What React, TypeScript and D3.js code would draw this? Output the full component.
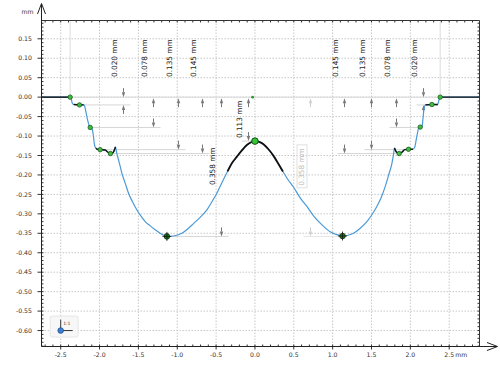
import * as d3 from "d3"

// tick values and labels
const xTicks = [-2.5, -2, -1.5, -1, -0.5, 0, 0.5, 1, 1.5, 2, 2.5]
const xTickLabels = ["-2.5", "-2.0", "-1.5", "-1.0", "-0.5", "0.0", "0.5", "1.0", "1.5", "2.0", "2.5"]
const yTicks = [0.15, 0.1, 0.05, 0, -0.05, -0.1, -0.15, -0.2, -0.25, -0.3, -0.35, -0.4, -0.45, -0.5, -0.55, -0.6]
const yTickLabels = ["0.15", "0.10", "0.05", "0.00", "-0.05", "-0.10", "-0.15", "-0.20", "-0.25", "-0.30", "-0.35", "-0.40", "-0.45", "-0.50", "-0.55", "-0.60"]

// measured profile (mm, mm)
const profile: [number, number][] = [
  [-2.747, 0], [-2.378, 0], [-2.365, -0.004], [-2.352, -0.015], [-2.333, -0.019],
  [-2.258, -0.02], [-2.204, -0.02], [-2.194, -0.022], [-2.172, -0.041], [-2.155, -0.058],
  [-2.133, -0.073], [-2.12, -0.078], [-2.098, -0.08], [-2.078, -0.101], [-2.065, -0.123],
  [-2.047, -0.131], [-2.03, -0.134], [-1.992, -0.135], [-1.927, -0.136], [-1.895, -0.141],
  [-1.859, -0.145], [-1.824, -0.142], [-1.795, -0.128], [-1.782, -0.141], [-1.756, -0.161],
  [-1.734, -0.178], [-1.712, -0.196], [-1.67, -0.221], [-1.627, -0.247], [-1.576, -0.269],
  [-1.519, -0.29], [-1.455, -0.309], [-1.412, -0.32], [-1.348, -0.331], [-1.284, -0.341],
  [-1.21, -0.351], [-1.133, -0.358], [-1.048, -0.357], [-0.94, -0.35], [-0.855, -0.337],
  [-0.791, -0.325], [-0.705, -0.309], [-0.618, -0.29], [-0.554, -0.269], [-0.49, -0.247],
  [-0.421, -0.218], [-0.353, -0.191], [-0.297, -0.17], [-0.232, -0.153], [-0.168, -0.137],
  [-0.104, -0.123], [-0.048, -0.116], [0, -0.113], [0.055, -0.115], [0.11, -0.121],
  [0.174, -0.134], [0.239, -0.151], [0.303, -0.172], [0.36, -0.191], [0.428, -0.213],
  [0.496, -0.231], [0.582, -0.259], [0.669, -0.281], [0.754, -0.305], [0.84, -0.324],
  [0.968, -0.346], [1.046, -0.353], [1.127, -0.357], [1.2, -0.355], [1.268, -0.35],
  [1.355, -0.337], [1.441, -0.32], [1.509, -0.301], [1.569, -0.281], [1.625, -0.258],
  [1.676, -0.23], [1.721, -0.2], [1.763, -0.17], [1.783, -0.148], [1.796, -0.131],
  [1.811, -0.138], [1.831, -0.143], [1.856, -0.145], [1.895, -0.141], [1.927, -0.135],
  [1.976, -0.134], [2.033, -0.134], [2.056, -0.129], [2.075, -0.11], [2.092, -0.092],
  [2.105, -0.08], [2.127, -0.077], [2.152, -0.075], [2.161, -0.058], [2.178, -0.028],
  [2.195, -0.02], [2.277, -0.019], [2.352, -0.019], [2.365, -0.01], [2.384, 0], [2.89, 0],
]

// fitted (black) stretches of the profile
const fitFrom = [-2.747, -2.333, -2.133, -2.047, -0.353, 1.796, 2.127, 2.195, 2.384]
const fitTo = [-2.378, -2.204, -2.098, -1.795, 0.36, 2.033, 2.152, 2.352, 2.89]

// small green points
const markX = [-2.378, -2.258, -2.12, -1.992, -1.859, 1.856, 1.976, 2.127, 2.277, 2.384]
const markY = [0, -0.02, -0.078, -0.135, -0.145, -0.145, -0.134, -0.077, -0.019, 0]
const minX = [-1.133, 1.127]
const minY = [-0.358, -0.357]
const peak: [number, number] = [0, -0.113]

// height dimensions
const dimLabels = ["0.020 mm", "0.078 mm", "0.135 mm", "0.145 mm", "0.358 mm", "0.113 mm", "0.358 mm", "0.145 mm", "0.135 mm", "0.078 mm", "0.020 mm"]
const dimX = [-1.696, -1.31, -0.992, -0.683, -0.434, -0.091, 0.711, 1.14, 1.492, 1.818, 2.165]
const dimLevel = [-0.02, -0.078, -0.135, -0.145, -0.358, -0.113, -0.358, -0.145, -0.135, -0.078, -0.02]
const dimFrom = [-2.258, -2.12, -1.992, -1.859, -1.133, 0, 1.127, 1.856, 1.976, 2.127, 2.277]
const dimTextY = [0.052, 0.052, 0.052, 0.052, -0.226, -0.105, -0.228, 0.052, 0.052, 0.052, 0.052]
const dimFaint = [false, false, false, false, false, false, true, false, false, false, false]

const FONT = "'DejaVu Sans', Verdana, sans-serif"

function Arrow({ x, tip, dir, color }: { x: number; tip: number; dir: number; color: string }) {
  // dir 1 = points down, -1 = points up
  const tail = tip - dir * 9
  const base = tip - dir * 5
  return (
    <g>
      <line x1={x} x2={x} y1={tail} y2={base} stroke={color} strokeWidth={1} />
      <path d={`M${x},${tip}L${x - 1.7},${base}L${x + 1.7},${base}Z`} fill={color} />
    </g>
  )
}

export default function App() {
  const x = d3.scaleLinear().domain([-2.747, 2.89]).range([41.5, 479.5])
  const y = d3.scaleLinear().domain([-0.641, 0.197]).range([346.5, 20.5])
  const [x0, x1] = x.range()
  const [y0, y1] = y.range()

  const line = d3
    .line<[number, number]>()
    .x((d) => x(d[0]))
    .y((d) => y(d[1]))
    .curve(d3.curveMonotoneX)

  const minorX = d3.range(-27, 29).map((i) => i / 10)
  const minorY = d3.range(-64, 20).map((i) => i / 100)
  const zero = y(0)

  return (
    <svg width={500} height={368} style={{ position: "absolute", left: 0, top: 0, background: "#fff" }} fontFamily={FONT}>
      {/* grid */}
      {xTicks.map((t) => (
        <line key={"gx" + t} x1={x(t)} x2={x(t)} y1={y1} y2={y0} stroke="#c8c8c8" strokeDasharray="1.5,1.5" />
      ))}
      {yTicks.map((t) => (
        <line key={"gy" + t} x1={x0} x2={x1} y1={y(t)} y2={y(t)} stroke="#c8c8c8" strokeDasharray="1.5,1.5" />
      ))}

      {/* reference lines */}
      <line x1={x(-2.378)} x2={x(2.384)} y1={zero} y2={zero} stroke="#d8d8d8" />
      <line x1={x(-2.378)} x2={x(-2.378)} y1={y1} y2={zero} stroke="#dcdcdc" />
      <line x1={x(2.384)} x2={x(2.384)} y1={y1} y2={zero} stroke="#dcdcdc" />

      {/* dimensions */}
      {dimLabels.map((lab, i) => {
        const ax = Math.round(x(dimX[i])) + 0.5
        const ly = y(dimLevel[i])
        const right = dimFrom[i] > dimX[i]
        const col = dimFaint[i] ? "#cfcfcf" : "#777"
        const extCol = dimFaint[i] ? "#e6e6e6" : "#d6d6d6"
        const outside = ly - zero < 20
        const tx = ax - 6.5
        const ty = y(dimTextY[i])
        return (
          <g key={"d" + i}>
            <line x1={x(dimFrom[i])} x2={right ? ax - 7 : ax + 7} y1={ly} y2={ly} stroke={extCol} />
            {outside ? (
              <>
                <Arrow x={ax} tip={zero} dir={1} color={col} />
                <Arrow x={ax} tip={ly} dir={-1} color={col} />
              </>
            ) : (
              <>
                <Arrow x={ax} tip={zero + 1} dir={-1} color={col} />
                <Arrow x={ax} tip={ly} dir={1} color={col} />
              </>
            )}
            {dimFaint[i] && (
              <rect x={tx - 7} y={ty - 41} width={10} height={43} fill="none" stroke="#e0e0e0" />
            )}
            <text
              transform={`translate(${tx},${ty}) rotate(-90)`}
              fontSize={7.3}
              fill={dimFaint[i] ? "#bdbdbd" : "#222"}
            >
              {lab}
            </text>
          </g>
        )
      })}

      {/* profile */}
      <path d={line(profile) || ""} fill="none" stroke="#4a9ad8" strokeWidth={1.2} />
      {fitFrom.map((f, i) => {
        const seg = profile.filter((p) => p[0] >= f - 1e-6 && p[0] <= fitTo[i] + 1e-6)
        return (
          <path
            key={"f" + i}
            d={line(seg) || ""}
            fill="none"
            stroke="#111"
            strokeWidth={i === 4 ? 1.8 : 1.4}
          />
        )
      })}

      {/* points */}
      <circle cx={x(-0.03)} cy={zero} r={1.4} fill="#2a9a2a" />
      {markX.map((m, i) => (
        <circle key={"m" + i} cx={x(m)} cy={y(markY[i])} r={2.2} fill="#3fbf3f" stroke="#1b5a1b" strokeWidth={0.8} />
      ))}
      {minX.map((m, i) => (
        <g key={"mn" + i}>
          <circle cx={x(m)} cy={y(minY[i])} r={2.8} fill="#1f7a1f" stroke="#0b330b" strokeWidth={0.8} />
          <line x1={x(m) - 4.5} x2={x(m) + 4.5} y1={y(minY[i])} y2={y(minY[i])} stroke="#111" strokeWidth={0.8} />
          <line x1={x(m)} x2={x(m)} y1={y(minY[i]) - 4.5} y2={y(minY[i]) + 4.5} stroke="#111" strokeWidth={0.8} />
        </g>
      ))}
      <circle cx={x(peak[0])} cy={y(peak[1])} r={3.3} fill="#35c435" stroke="#145214" strokeWidth={1} />

      {/* frame ticks */}
      {minorX.map((t) => {
        const major = Math.abs(t * 2 - Math.round(t * 2)) < 1e-6
        return (
          <g key={"tx" + t}>
            <line x1={x(t)} x2={x(t)} y1={y0} y2={y0 - 2} stroke="#333" />
            <line x1={x(t)} x2={x(t)} y1={y1} y2={y1 + 2} stroke="#333" />
            {major && <line x1={x(t)} x2={x(t)} y1={y0} y2={y0 + 3} stroke="#333" />}
          </g>
        )
      })}
      {minorY.map((t) => {
        const major = Math.abs(t * 20 - Math.round(t * 20)) < 1e-6
        return (
          <g key={"ty" + t}>
            <line x1={x0} x2={x0 + 2} y1={y(t)} y2={y(t)} stroke="#333" />
            <line x1={x1} x2={x1 - 2} y1={y(t)} y2={y(t)} stroke="#333" />
            {major && <line x1={x0} x2={x0 - 4} y1={y(t)} y2={y(t)} stroke="#333" />}
          </g>
        )
      })}

      {/* axes */}
      <line x1={x0} x2={x1} y1={y1} y2={y1} stroke="#333" />
      <line x1={x1} x2={x1} y1={y1} y2={y0} stroke="#333" />
      <line x1={x0} x2={x0} y1={y0} y2={4} stroke="#222" />
      <polyline points={`${x0 - 4},14 ${x0},3.5 ${x0 + 4},14`} fill="none" stroke="#222" />
      <line x1={x0} x2={497} y1={y0} y2={y0} stroke="#222" />
      <polyline points={`487,${y0 - 4} 497.5,${y0} 487,${y0 + 4}`} fill="none" stroke="#222" />

      {/* tick labels */}
      {yTicks.map((t, i) => (
        <text key={"ly" + t} x={32} y={y(t)} dy="0.35em" textAnchor="end" fontSize={6.2} fill="#333">
          {yTickLabels[i]}
        </text>
      ))}
      {xTicks.map((t, i) => (
        <text key={"lx" + t} x={x(t)} y={357.3} textAnchor="middle" fontSize={6.2} fill="#333">
          {xTickLabels[i]}
        </text>
      ))}
      <text x={x(2.5) + 6} y={357.3} fontSize={6.2} fill="#333">mm</text>
      <text x={21.5} y={14} fontSize={6.2} fill="#333">mm</text>

      {/* origin marker */}
      <rect x={x(-2.5) - 10.5} y={y(-0.6) - 14.5} width={28} height={21} rx={2} fill="#f7f7f7" stroke="#e6e6e6" />
      <line x1={x(-2.5)} x2={x(-2.5)} y1={y(-0.6)} y2={y(-0.6) - 11} stroke="#333" />
      <line x1={x(-2.5)} x2={x(-2.5) + 12} y1={y(-0.6)} y2={y(-0.6)} stroke="#333" />
      <text x={x(-2.5) + 2.5} y={y(-0.6) - 6} fontSize={4.5} fill="#333">1:1</text>
      <circle cx={x(-2.5)} cy={y(-0.6)} r={2.8} fill="#3f7fd0" stroke="#1f4f90" strokeWidth={0.8} />
    </svg>
  )
}
